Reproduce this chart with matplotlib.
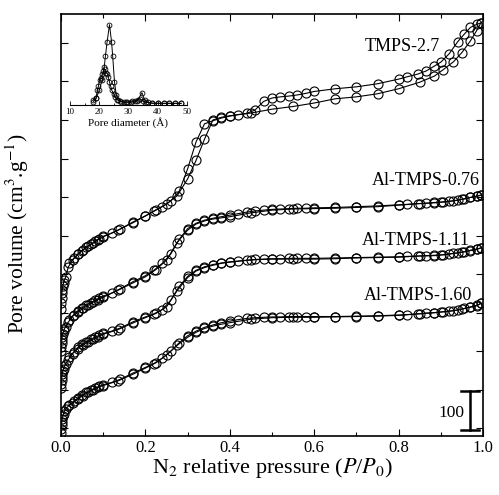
import numpy as np
import matplotlib.pyplot as plt
from matplotlib.ticker import MultipleLocator

plt.rcParams['font.family'] = ['Liberation Serif', 'DejaVu Serif']
plt.rcParams['mathtext.fontset'] = 'stix'

# relative pressure points (adsorption / desorption)
P_ADS = [0.0005, 0.001, 0.0015, 0.002, 0.003, 0.004, 0.006, 0.008, 0.011, 0.017,
         0.028, 0.04, 0.052, 0.064, 0.076, 0.088, 0.10, 0.135, 0.17, 0.20,
         0.225, 0.25, 0.275, 0.30, 0.32, 0.34, 0.36, 0.38, 0.40, 0.45,
         0.50, 0.55, 0.60, 0.65, 0.70, 0.75, 0.80, 0.85, 0.885, 0.905,
         0.93, 0.95, 0.97, 0.985, 0.995]
P_DES = [0.995, 0.985, 0.97, 0.955, 0.94, 0.92, 0.90, 0.885, 0.865, 0.845,
         0.82, 0.80, 0.75, 0.70, 0.65, 0.60, 0.58, 0.56, 0.54, 0.52,
         0.50, 0.48, 0.46, 0.44, 0.42, 0.40, 0.38, 0.36, 0.34, 0.32,
         0.30, 0.28, 0.26, 0.24, 0.22, 0.20, 0.17, 0.14, 0.12, 0.10,
         0.09, 0.08, 0.07, 0.06, 0.05, 0.04, 0.03, 0.02]

# volumes (curves offset vertically as in the original figure)
tmps27_ads = [310, 325, 338, 350, 360, 368, 377, 384, 392, 418,
              437, 452, 463, 472, 480, 489, 497, 514, 533, 551,
              567, 582, 603, 647, 695, 750, 800, 807, 811, 818,
              828, 835, 844, 855, 860, 868, 881, 898, 914, 930,
              951, 975, 1005, 1032, 1052]
tmps27_des = [1052, 1048, 1040, 1022, 1003, 972, 950, 940, 927, 919,
              912, 906, 894, 886, 881, 874, 869, 865, 862, 860,
              857, 848, 826, 817, 814, 810, 805, 798, 790, 743,
              673, 615, 590, 575, 563, 551, 535, 517, 506, 498,
              492, 485, 478, 470, 461, 452, 441, 428]

al076_ads = [200, 212, 222, 230, 238, 245, 252, 258, 264, 275,
             291, 301, 311, 319, 327, 334, 340, 358, 377, 393,
             412, 436, 482, 514, 530, 538, 543, 546, 549, 559,
             566, 569, 570, 571, 573, 575, 579, 583, 585, 587,
             590, 594, 599, 602, 605]
al076_des = [605, 602, 599, 595, 592, 589, 587, 586, 584, 583,
             581, 580, 577, 575, 573, 572, 571, 571, 570, 569,
             568, 566, 564, 561, 557, 553, 549, 545, 540, 532,
             518, 490, 452, 428, 410, 396, 380, 362, 351, 343,
             338, 332, 326, 320, 313, 305, 295, 282]

al111_ads = [105, 115, 125, 133, 141, 148, 155, 161, 167, 177,
             194, 207, 216, 224, 231, 237, 244, 256, 273, 287,
             298, 315, 357, 391, 408, 417, 423, 428, 431, 437,
             439, 439, 439, 440, 442, 443, 444, 447, 448, 450,
             454, 457, 461, 464, 468]
al111_des = [468, 465, 462, 458, 455, 452, 450, 449, 448, 447,
             446, 445, 444, 443, 442, 441, 441, 441, 441, 440,
             440, 439, 438, 436, 434, 432, 429, 425, 419, 410,
             394, 368, 332, 308, 297, 289, 276, 260, 252, 246,
             241, 236, 231, 225, 218, 210, 198, 184]

al160_ads = [-12, -2, 8, 16, 24, 31, 38, 44, 50, 57,
             66, 76, 85, 93, 100, 106, 111, 123, 140, 156,
             170, 190, 215, 236, 249, 259, 265, 270, 274, 283,
             287, 288, 288, 289, 290, 291, 293, 297, 300, 302,
             305, 309, 314, 318, 324]
al160_des = [324, 319, 315, 311, 307, 304, 302, 300, 299, 297,
             295, 294, 292, 291, 290, 290, 290, 290, 290, 289,
             289, 288, 287, 285, 282, 278, 274, 268, 262, 252,
             240, 222, 200, 182, 168, 158, 143, 127, 119, 113,
             109, 104, 99, 93, 86, 79, 70, 60]

labels = ['TMPS-2.7', 'Al-TMPS-0.76', 'Al-TMPS-1.11', 'Al-TMPS-1.60']
label_x = [0.898, 0.993, 0.969, 0.974]
label_y = [990, 644, 488, 345]

# pore size distribution (inset)
d_a = [18, 19, 20, 21, 21.7, 22.1, 22.7, 23.5, 24.2, 24.6, 25.2, 25.8, 26.5,
       27.5, 29, 31, 33, 34.6, 35.5, 36.5, 38, 40, 42, 44, 46, 48]
psd_a = [10, 20, 45, 75, 114, 146, 190, 241, 190, 146, 70, 30, 15,
         10, 8, 8, 12, 37, 15, 8, 5, 5, 5, 5, 5, 5]
d_b = [18, 18.9, 19.4, 19.7, 20.1, 20.5, 21, 21.4, 21.8, 22.3, 22.8, 23.1,
       23.5, 23.9, 24.3, 24.9, 25.4, 26.2, 27.1, 28.3, 29.4, 31.1, 32.3, 33.1,
       34, 35, 36, 38, 40, 42, 44, 46, 48]
psd_b = [16, 22, 46, 56, 74, 82, 92, 102, 109, 96, 94, 84,
         69, 56, 44, 34, 24, 16, 12, 9, 9, 11, 12, 16,
         18, 12, 8, 6, 5, 5, 5, 5, 5]

fig = plt.figure(figsize=(4.99, 4.95), dpi=100)
ax = fig.add_axes([61 / 499, 59 / 495, 422 / 499, 422 / 495])

style = dict(color='black', lw=0.8, marker='o', ms=6.5, mfc='none', mec='black', mew=0.8)
for ads, des in [(tmps27_ads, tmps27_des), (al076_ads, al076_des),
                 (al111_ads, al111_des), (al160_ads, al160_des)]:
    ax.plot(P_ADS, ads, **style)
    ax.plot(P_DES, des, **style)

for t, tx, ty in zip(labels, label_x, label_y):
    ax.text(tx, ty, t, ha='right', va='center', fontsize=13)

# scale bar (100 units)
ax.plot([0.969, 0.969], [-4, 96], color='black', lw=1.8)
ax.plot([0.947, 0.991], [-4, -4], color='black', lw=1.8)
ax.plot([0.947, 0.991], [96, 96], color='black', lw=1.8)
ax.text(0.955, 40, '100', ha='right', va='center', fontsize=12.5)

ax.set_xlim(0, 1.0)
ax.set_ylim(-20, 1075)
ax.xaxis.set_major_locator(MultipleLocator(0.2))
ax.xaxis.set_minor_locator(MultipleLocator(0.1))
ax.yaxis.set_major_locator(MultipleLocator(100))
ax.set_yticklabels([])
ax.tick_params(which='both', direction='in', top=True, right=True, width=0.8)
ax.tick_params(which='major', length=5, labelsize=12, pad=3)
ax.tick_params(which='minor', length=3)
for s in ax.spines.values():
    s.set_linewidth(1.2)
ax.set_xlabel(r'N$_2$ relative pressure ($P$/$P_{\mathit{0}}$)', fontsize=16, labelpad=0)
ax.set_ylabel(r'Pore volume (cm$^3$.g$^{-1}$)', fontsize=15.5)
ax.yaxis.set_label_coords(-0.072, 0.48)

# inset
ins = fig.add_axes([70 / 499, 390 / 495, 117 / 499, 90 / 495])
ins.patch.set_alpha(0)
ins.plot(d_a, psd_a, color='black', lw=0.7, marker='o', ms=3.5, mfc='none', mec='black', mew=0.6)
ins.plot(d_b, psd_b, color='black', lw=0.7, marker='o', ms=3.5, mfc='none', mec='black', mew=0.6)
ins.set_xlim(10, 50)
ins.set_ylim(0, 270)
for k in ['top', 'right', 'left']:
    ins.spines[k].set_visible(False)
ins.spines['bottom'].set_linewidth(0.8)
ins.set_yticks([])
ins.xaxis.set_major_locator(MultipleLocator(10))
ins.xaxis.set_minor_locator(MultipleLocator(5))
ins.tick_params(axis='x', which='both', direction='in', labelsize=6.5, pad=2, width=0.6)
ins.tick_params(axis='x', which='major', length=3)
ins.tick_params(axis='x', which='minor', length=1.5)
ins.set_xlabel('Pore diameter (Å)', fontsize=8, labelpad=1)

fig.savefig('out.png', dpi=100)
